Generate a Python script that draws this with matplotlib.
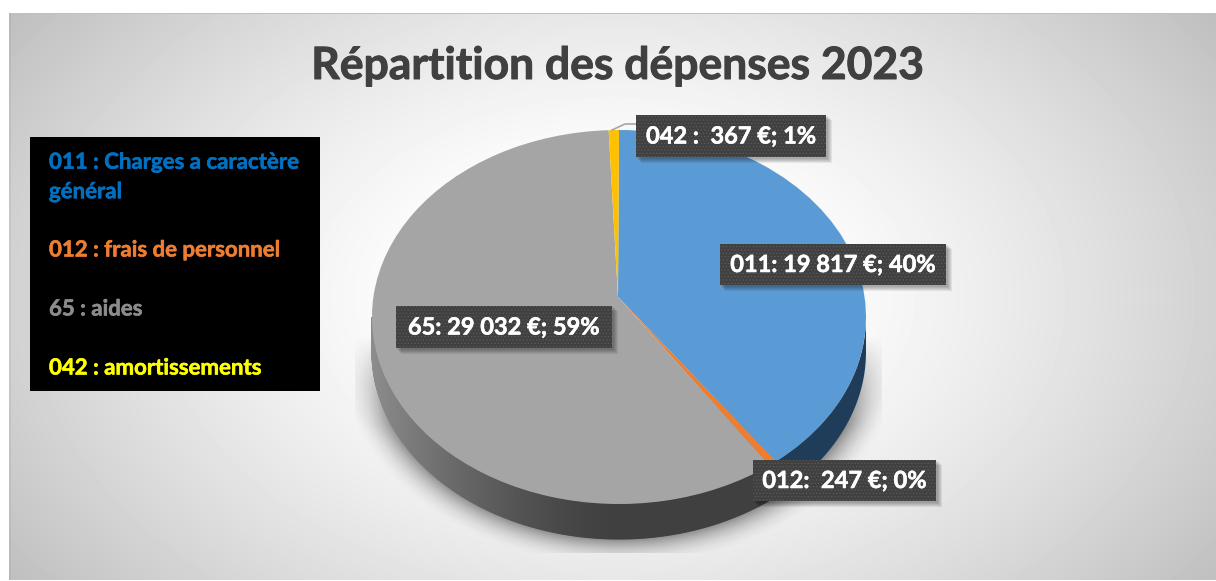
import matplotlib
matplotlib.use('Agg')
import matplotlib.pyplot as plt
import matplotlib.patheffects as pe
import numpy as np
from matplotlib.patches import Rectangle

plt.rcParams['font.family'] = ['Lato', 'DejaVu Sans']
plt.rcParams['hatch.linewidth'] = 0.6

W, H = 1216, 581

# donnees
postes = ['011', '012', '65', '042']
valeurs = [19817, 247, 29032, 367]
couleurs = ['#5B9BD5', '#ED7D31', '#A5A5A5', '#FFC000']
titre = 'Répartition des dépenses 2023'
etiquettes = ['011: 19 817 €; 40%', '012:  247 €; 0%', '65: 29 032 €; 59%', '042 :  367 €; 1%']
legende = ['011 : Charges a caractère\ngénéral', '012 : frais de personnel', '65 : aides', '042 : amortissements']
couleurs_legende = ['#0070C0', '#ED7D31', '#8C8C8C', '#FFFF00']

# geometrie de la "3D" (pixels)
cx, cy, rx, ry = 619, 317, 247, 187
sommet = (618, 297)
prof = 35
k_persp = 0.90


def persp(angle):
    # angle vrai -> angle sur l'ellipse (le bas du camembert parait plus grand)
    a = np.radians(angle) / 2
    return np.degrees(2 * np.arctan2(k_persp * np.sin(a), np.cos(a)))


def gras(largeur, couleur):
    return [pe.withStroke(linewidth=largeur, foreground=couleur)]


fig = plt.figure(figsize=(W / 100, H / 100), dpi=100, facecolor='white')

# fond degrade
fond = fig.add_axes([0, 0, 1, 1], zorder=0)
yy, xx = np.mgrid[0:H, 0:W]
d = np.hypot((xx - 612) / 604, (yy - 297) / 400)
gris = 1 - 0.25 * np.clip((d - 0.25) / 0.97, 0, 1) ** 1.3
gris[:, :9] = 1
gris[:13, :] = 1
gris[580:, :] = 1
gris[13, 9:] = 0.75
gris[13:580, 9:11] *= 0.95
fond.imshow(gris, cmap='gray', vmin=0, vmax=1, extent=(0, W, H, 0), aspect='auto', interpolation='nearest')

# ombre sous le camembert
dist = np.hypot((xx - cx) / rx, (yy - cy - prof) / ry)
ombre = np.clip(1 - (dist - 1) / 0.15, 0, 1) ** 2 * 0.40
ombre *= np.clip((yy - 335) / 90, 0, 1)
ombre[(xx < 355) | (xx > 881) | (yy > 552)] = 0
ombre_rgba = np.zeros((H, W, 4))
ombre_rgba[..., 3] = ombre
fond.imshow(ombre_rgba, extent=(0, W, H, 0), aspect='auto', interpolation='bilinear')
fond.set_xlim(0, W)
fond.set_ylim(H, 0)
fond.axis('off')

# camembert
ax = fig.add_axes([0, 0, 1, 1], zorder=1)
ax.patch.set_alpha(0)
bornes = persp(np.concatenate([[0], np.cumsum(valeurs)]) / np.sum(valeurs) * 360)
e = prof / ry

# flanc
teintes = ['#1F3D59', '#7A3E18', None, '#7F6000']
for i in range(len(valeurs)):
    a0 = max(bornes[i], 90)
    a1 = min(bornes[i + 1], 270)
    if a1 <= a0:
        continue
    pas = np.linspace(a0, a1, max(int(a1 - a0) * 2, 2))
    xs = np.sin(np.radians(pas))
    ys = np.cos(np.radians(pas))
    if teintes[i] is not None:
        ax.fill(np.r_[xs, xs[::-1]], np.r_[ys, ys[::-1] - e], color=teintes[i], lw=0, zorder=1)
        continue
    # le flanc gris s'eclaircit vers la gauche
    for j in range(len(pas) - 1):
        g = 0.25 + 0.30 * np.clip(-(xs[j] + xs[j + 1]) / 2, 0, 1) ** 1.5
        ax.fill([xs[j], xs[j + 1], xs[j + 1], xs[j]], [ys[j], ys[j + 1], ys[j + 1] - e, ys[j] - e],
                color=(g, g, g), lw=0.8, zorder=1)

parts, _ = ax.pie(np.diff(bornes), colors=couleurs, startangle=90, counterclock=False, radius=1)
sx = (sommet[0] - cx) / rx
sy = (cy - sommet[1]) / ry
for p in parts:
    p.set_zorder(2)
    v = p.get_path().vertices
    v[(v[:, 0] == 0) & (v[:, 1] == 0)] = (sx, sy)
ax.set_aspect('auto')
ax.set_xlim(-cx / rx, (W - cx) / rx)
ax.set_ylim((cy - H) / ry, cy / ry)
ax.axis('off')

# calque en pixels pour les textes
top = fig.add_axes([0, 0, 1, 1], zorder=2)
top.patch.set_alpha(0)
top.set_xlim(0, W)
top.set_ylim(H, 0)
top.axis('off')

top.text(618, 66, titre, fontsize=32, fontweight='bold', color='#404040', ha='center', va='center',
         path_effects=gras(0.7, '#404040'))

# legende
top.add_patch(Rectangle((30, 137), 290, 254, fc='black', ec='none'))
pos_leg = [(49, 177), (49, 250), (49, 309), (49, 368)]
for txt, col, (x, y) in zip(legende, couleurs_legende, pos_leg):
    top.text(x, y, txt, color=col, fontsize=16, fontweight='bold', va='center', ha='left', linespacing=1.5,
             path_effects=gras(0.4, col))

# etiquettes
boites = [(720, 244, 226, 41), (753, 460, 183, 41), (396, 306, 216, 42), (636, 115, 190, 42)]
top.plot([612, 625, 636], [130, 124, 124], color='#A6A6A6', lw=1.2, zorder=2)
for txt, (x, y, w, h) in zip(etiquettes, boites):
    for k in range(1, 6):
        top.add_patch(Rectangle((x + k, y + k), w + 1, h + 1, fc='black', ec='none', alpha=0.07, zorder=3))
    top.add_patch(Rectangle((x, y), w, h, fc='#404040', ec='#585858', lw=0, hatch='.....', zorder=4))
    top.text(x + w / 2, y + h / 2, txt, color='white', fontsize=17, fontweight='bold',
             ha='center', va='center', zorder=5, path_effects=gras(0.4, 'white'))

fig.savefig('out.png', dpi=100)
